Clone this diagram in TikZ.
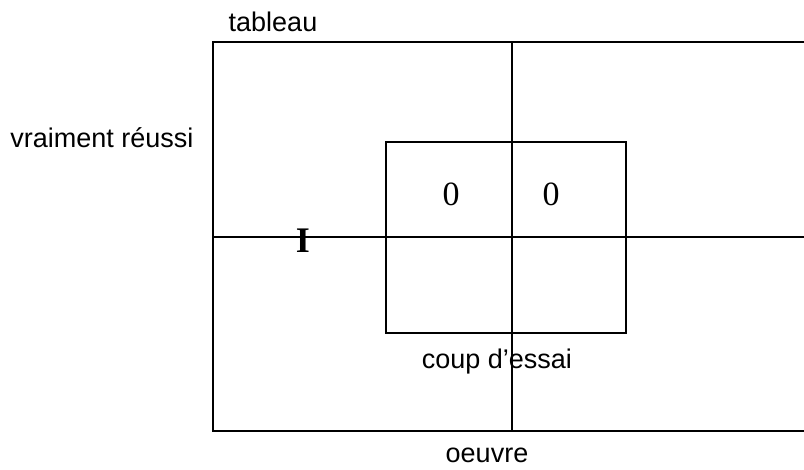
\documentclass[tikz,border=0pt]{standalone}
\usepackage{fontspec}
\setmainfont{Liberation Sans}
\newfontfamily\timesfont{Liberation Serif}

\begin{document}
\begin{tikzpicture}[x=1pt,y=-1pt,
  label text/.style={anchor=base,inner sep=0pt,font=\fontsize{27}{32}\selectfont},
  cell text/.style={anchor=base,inner sep=0pt,font=\timesfont\fontsize{34}{40}\selectfont},
  frame line/.style={line width=2pt},
  box line/.style={line width=1.3pt}]
  \useasboundingbox (0,0) rectangle (804,470);

  % outer frame, open to the right
  \draw[frame line] (810,42) -- (213,42) -- (213,431) -- (810,431);
  \draw[frame line] (213,237) -- (810,237);
  \draw[frame line] (512,42) -- (512,431);

  % inner square
  \draw[box line] (386,142) rectangle (626,333);

  \node[label text] (tab) at (273,32) {tableau};
  \node[label text] (vrai) at (102,148) {vraiment réussi};
  \node[label text] (oeu) at (487,463) {oeuvre};
  \node[label text] (coup) at (497,369) {coup d’essai};

  \node[cell text] (z1) at (451,206) {0};
  \node[cell text] (z2) at (551,206) {0};
  \node[cell text,font=\timesfont\bfseries\fontsize{36}{42}\selectfont] (one) at (303,253) {I};
\end{tikzpicture}
\end{document}
